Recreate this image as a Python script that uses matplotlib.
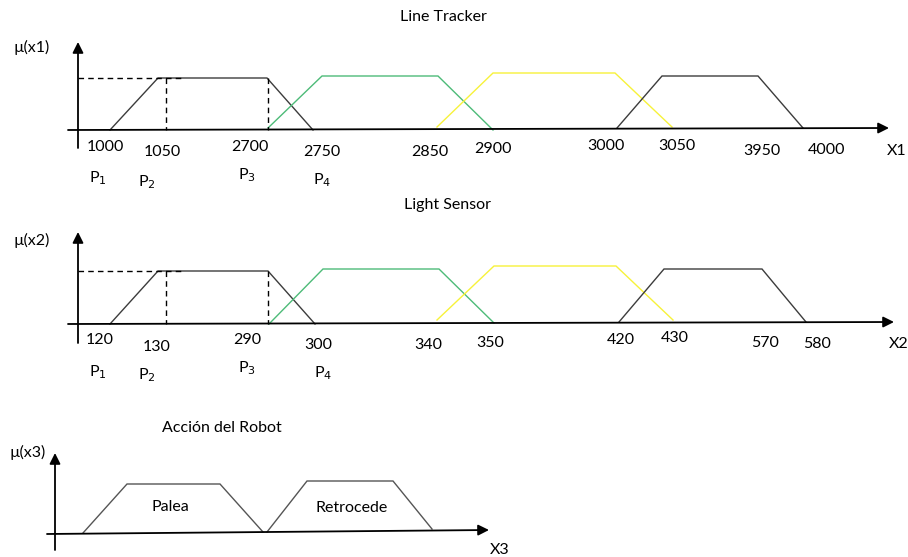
import matplotlib
matplotlib.use("Agg")
import matplotlib.pyplot as plt

plt.rcParams['font.family'] = ['Lato', 'DejaVu Sans']

# Diagram is laid out in page units (908 x 557), y growing downwards.
# --- Panel 1: Line Tracker ---
lt_black1 = [(110, 130), (158, 78), (267, 78), (313, 130)]
lt_green = [(268, 128), (322, 76), (438, 76), (493, 130)]
lt_yellow = [(437, 127), (493, 73), (615, 73), (672, 127)]
lt_black2 = [(617, 128), (662, 76), (758, 76), (803, 128)]
lt_labels = ['1000', '1050', '2700', '2750', '2850', '2900', '3000', '3050', '3950', '4000']
lt_label_x = [105, 162, 250, 322, 430, 493, 606, 677, 762, 827]
lt_label_y = [147, 152, 147, 152, 152, 149, 146, 146, 151, 150]
lt_p_x = [98, 147, 247, 322]
lt_p_y = [178, 182, 175, 180]

# --- Panel 2: Light Sensor ---
ls_black1 = [(110, 324), (158, 271), (268, 271), (315, 324)]
ls_green = [(269, 324), (323, 269), (439, 269), (494, 323)]
ls_yellow = [(437, 320), (494, 266), (616, 266), (673, 320)]
ls_black2 = [(619, 322), (664, 269), (762, 269), (806, 322)]
ls_labels = ['120', '130', '290', '300', '340', '350', '420', '430', '570', '580']
ls_label_x = [100, 157, 247, 318, 428, 490, 621, 675, 765, 817]
ls_label_y = [340, 347, 340, 345, 345, 343, 340, 338, 343, 344]
ls_p_x = [98, 147, 247, 323]
ls_p_y = [372, 375, 368, 373]

# --- Panel 3: Acción del Robot ---
ar_palea = [(83, 533), (127, 484), (220, 484), (263, 532)]
ar_retro = [(267, 532), (307, 481), (393, 481), (432, 529)]

BLACK = '#3c3c3c'
GREEN = '#4dbb78'
YELLOW = '#f7f23a'
FS = 11.5

fig = plt.figure(figsize=(9.08, 5.57), dpi=100)
ax = fig.add_axes([0, 0, 1, 1])
ax.set_xlim(0, 908)
ax.set_ylim(557, 0)
ax.axis('off')


def trap(pts, color):
    xs = [p[0] for p in pts]
    ys = [p[1] for p in pts]
    ax.plot(xs, ys, color=color, lw=1.0, solid_joinstyle='miter')


def arrow_axis(x0, y0, x1, y1):
    ax.annotate('', xy=(x1, y1), xytext=(x0, y0),
                arrowprops=dict(arrowstyle='-|>', color='black', lw=1.3,
                                mutation_scale=16, shrinkA=0, shrinkB=0))


def fuzzy_panel(title, title_xy, mu_text, mu_xy, yaxis, xaxis, traps, labels,
                lx, ly, px, py, xname, xname_xy, dash_top, dash_xs):
    ax.text(*title_xy, title, ha='center', va='center', fontsize=FS)
    ax.text(*mu_xy, mu_text, ha='center', va='center', fontsize=FS)
    arrow_axis(*yaxis)
    arrow_axis(*xaxis)
    for pts, col in traps:
        trap(pts, col)
    # dashed guides
    ax.plot([78, 183], [dash_top, dash_top], color='black', lw=1.0, ls=(0, (4, 3)))
    for dx in dash_xs:
        ax.plot([dx, dx], [dash_top, xaxis[1]], color='black', lw=1.0, ls=(0, (4, 3)))
    for t, x, y in zip(labels, lx, ly):
        ax.text(x, y, t, ha='center', va='center', fontsize=FS)
    for i, (x, y) in enumerate(zip(px, py)):
        ax.text(x, y, 'P$_{%d}$' % (i + 1), ha='center', va='center', fontsize=FS)
    ax.text(*xname_xy, xname, ha='center', va='center', fontsize=FS)


fuzzy_panel('Line Tracker', (443, 17), 'µ(x1)', (32, 47),
            (78, 148, 78, 42), (68, 130, 889, 128),
            [(lt_black1, BLACK), (lt_green, GREEN), (lt_yellow, YELLOW), (lt_black2, BLACK)],
            lt_labels, lt_label_x, lt_label_y, lt_p_x, lt_p_y,
            'X1', (897, 151), 78, [166, 268])

fuzzy_panel('Light Sensor', (447, 205), 'µ(x2)', (32, 240),
            (78, 343, 78, 232), (68, 324, 894, 322),
            [(ls_black1, BLACK), (ls_green, GREEN), (ls_yellow, YELLOW), (ls_black2, BLACK)],
            ls_labels, ls_label_x, ls_label_y, ls_p_x, ls_p_y,
            'X2', (899, 344), 271, [166, 268])

# bottom panel
ax.text(222, 428, 'Acción del Robot', ha='center', va='center', fontsize=FS)
ax.text(28, 452, 'µ(x3)', ha='center', va='center', fontsize=FS)
arrow_axis(55, 550, 55, 453)
arrow_axis(47, 534, 489, 530)
trap(ar_palea, '#555555')
trap(ar_retro, '#555555')
ax.text(170, 507, 'Palea', ha='center', va='center', fontsize=FS)
ax.text(352, 508, 'Retrocede', ha='center', va='center', fontsize=FS)
ax.text(500, 550, 'X3', ha='center', va='center', fontsize=FS)

fig.savefig('out.png', dpi=100)
